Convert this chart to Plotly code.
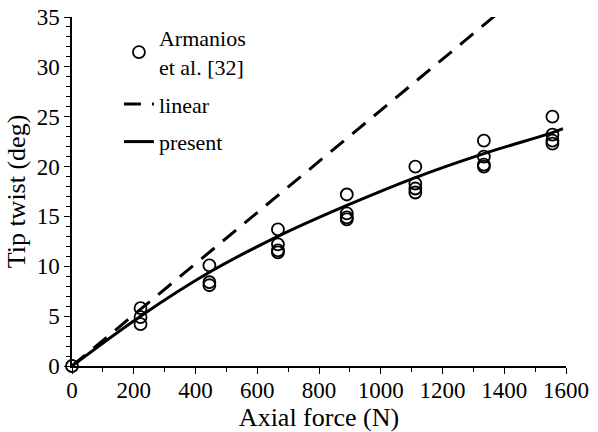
import plotly.graph_objects as go

# Experimental data (Armanios et al. [32])
exp_x = [0,
         222, 222, 222,
         445, 445, 445,
         667, 667, 667, 667,
         890, 890, 890, 890,
         1112, 1112, 1112, 1112,
         1334, 1334, 1334, 1334,
         1556, 1556, 1556, 1556]
exp_y = [0,
         5.8, 4.9, 4.2,
         10.1, 8.4, 8.1,
         13.7, 12.2, 11.6, 11.4,
         17.2, 15.3, 14.9, 14.7,
         20.0, 18.3, 17.8, 17.4,
         22.6, 21.0, 20.2, 20.0,
         25.0, 23.2, 22.6, 22.3]

# Linear theory
lin_x = [0, 1400]
lin_y = [0, 35.9]

# Present (nonlinear) theory
pres_x = [0, 222, 445, 667, 890, 1112, 1334, 1556, 1590]
pres_y = [0, 5.0, 9.4, 13.0, 16.1, 18.9, 21.3, 23.4, 23.8]

x_ticks = [0, 200, 400, 600, 800, 1000, 1200, 1400, 1600]
y_ticks = [0, 5, 10, 15, 20, 25, 30, 35]

FONT = "Liberation Serif, Times New Roman, serif"

fig = go.Figure()
fig.add_trace(go.Scatter(
    x=exp_x, y=exp_y, mode="markers", name="Armanios<br>et al. [32]", legendgroup="a",
    marker=dict(symbol="circle-open", size=12, color="black", line=dict(width=1.8, color="black")),
    cliponaxis=False))
fig.add_trace(go.Scatter(
    x=lin_x, y=lin_y, mode="lines", name="linear", legendgroup="b",
    line=dict(color="black", width=3, dash="17px,11px")))
fig.add_trace(go.Scatter(
    x=pres_x, y=pres_y, mode="lines", name="present", legendgroup="c",
    line=dict(color="black", width=3, shape="spline", smoothing=1.0)))

fig.update_layout(
    width=598, height=432,
    margin=dict(l=72, r=32, t=17, b=66),
    paper_bgcolor="white", plot_bgcolor="white",
    font=dict(family=FONT, size=24, color="black"),
    showlegend=True,
    legend=dict(x=0.095, y=1.0, xanchor="left", yanchor="top",
                bgcolor="rgba(0,0,0,0)", font=dict(size=22, family=FONT, color="black"),
                tracegroupgap=6, itemwidth=30),
    xaxis=dict(range=[0, 1600], tickvals=x_ticks, ticks="outside", ticklen=6, tickwidth=1.2,
               tickcolor="black", automargin=False, tickfont=dict(size=23),
               ticklabelstandoff=-3,
               showline=True, linecolor="black", linewidth=1.5, showgrid=False, zeroline=False,
               minor=dict(dtick=100, ticks="outside", ticklen=4, tickcolor="black"),
               title=dict(text="Axial force (N)", font=dict(size=26, color="black"), standoff=5)),
    yaxis=dict(range=[0, 35], tickvals=y_ticks, ticks="outside", ticklen=6, tickwidth=1.2,
               tickcolor="black", automargin=False, tickfont=dict(size=23),
               showline=True, linecolor="black", linewidth=1.5, showgrid=False, zeroline=False,
               minor=dict(dtick=1, ticks="outside", ticklen=4, tickcolor="black"),
               title=dict(text="Tip twist (deg)", font=dict(size=26, color="black"), standoff=4)),
)

fig.write_html("out.html", config={"displayModeBar": False},
               post_script="document.body.style.margin='0';")
